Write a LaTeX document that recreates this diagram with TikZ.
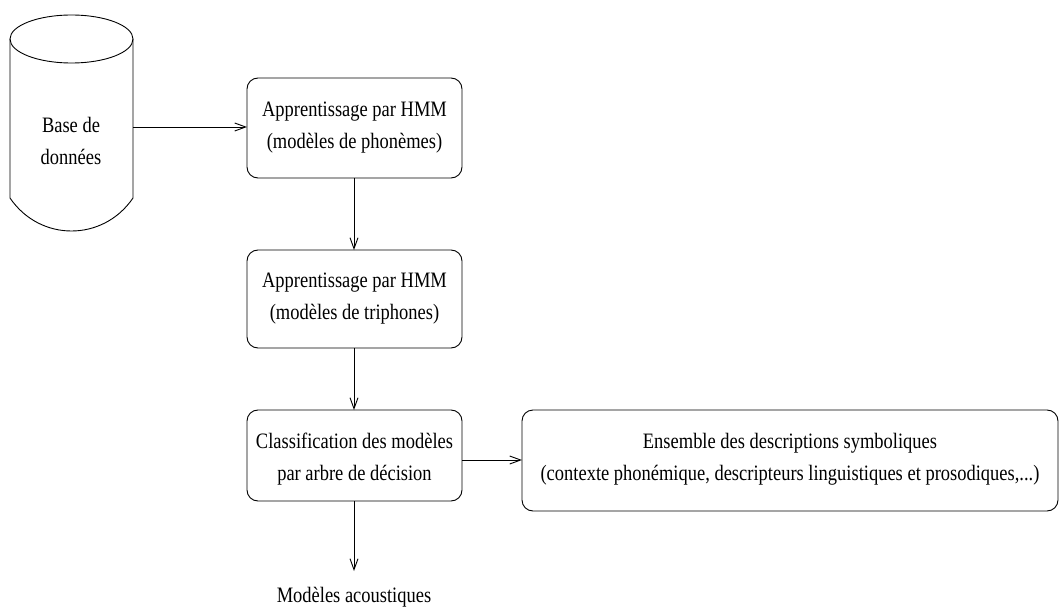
\documentclass[tikz,border=0pt]{standalone}
\usepackage{fontspec}
\setmainfont{Liberation Serif}
\usetikzlibrary{arrows.meta}
\begin{document}
\begin{tikzpicture}[x=1pt,y=-1pt,
  every node/.style={font=\fontsize{22}{32}\selectfont, align=center, inner sep=0pt},
  stagebox/.style={draw, line width=0.9pt, rounded corners=11pt},
  flow/.style={draw, line width=0.9pt, -{Straight Barb[length=11pt,width=8pt,line width=0.9pt]}},
  label/.style={xscale=0.84}]
\useasboundingbox (0,0) rectangle (1061,607);

% database cylinder
\draw[line width=0.9pt] (10,39) -- (10,198)
  .. controls (40,242) and (103,242) .. (133,198) -- (133,39);
\draw[line width=0.9pt] (71.5,39) ellipse [x radius=61.5, y radius=24];
\node[label] (db) at (71,141) {Base de\\données};
\coordinate (dbr) at (133,127);

% processing stages
\draw[stagebox] (247,78) rectangle (462,178);
\node[label] (s1) at (354.5,128) {Apprentissage par HMM\\(modèles de phonèmes)};
\coordinate (s1w) at (247,127);
\coordinate (s1s) at (354,178);

\draw[stagebox] (247,250) rectangle (462,348);
\node[label] (s2) at (354.5,299) {Apprentissage par HMM\\(modèles de triphones)};
\coordinate (s2n) at (354,250);
\coordinate (s2s) at (354,348);

\draw[stagebox] (247,410) rectangle (462,501);
\node[label] (s3) at (354.5,459) {Classification des modèles\\par arbre de décision};
\coordinate (s3n) at (354,410);
\coordinate (s3e) at (462,460);
\coordinate (s3s) at (354,501);

\draw[stagebox] (522,410) rectangle (1058,511);
\node[label] (s4) at (790,459) {Ensemble des descriptions symboliques\\(contexte phonémique, descripteurs linguistiques et prosodiques,...)};
\coordinate (s4w) at (522,460);

\node[label] (out) at (354,597) {Modèles acoustiques};
\coordinate (outn) at (354,571);

% connectors
\draw[flow] (dbr) -- (s1w);
\draw[flow] (s1s) -- (s2n);
\draw[flow] (s2s) -- (s3n);
\draw[flow] (s3e) -- (s4w);
\draw[flow] (s3s) -- (outn);
\end{tikzpicture}
\end{document}
